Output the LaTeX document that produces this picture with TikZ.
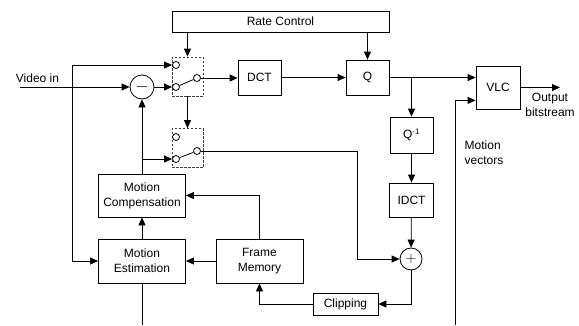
\documentclass[tikz,border=0pt]{standalone}
\usepackage{fontspec}
\setmainfont{Liberation Sans}
\usetikzlibrary{positioning,arrows.meta}
\begin{document}
\begin{tikzpicture}[x=1pt,y=-1pt,line width=.8pt,every node/.style={font=\fontsize{12}{15}\selectfont},
    box/.style={draw,align=center,inner sep=0pt,minimum width=43pt,minimum height=35pt},
    wide/.style={box,minimum width=87pt,minimum height=44pt},
    swbox/.style={draw=black!75,dash pattern=on 2.5pt off 1.5pt,inner sep=0pt,minimum width=31pt,minimum height=39pt},
    contact/.style={draw,circle,fill=white,inner sep=0pt,minimum size=7pt},
    sum/.style={draw,circle,inner sep=0pt},
    arr/.style={-{Triangle[length=8pt,width=7pt]}}]
    \useasboundingbox (0,0) rectangle (579,325);
    \node[box,minimum width=217pt,minimum height=21pt] (rc) at (280.5,21.5) {Rate Control};
    \node[swbox] (sw1) at (187.5,76.5) {};
    \node[swbox] (sw2) at (187.5,148) {};
    \node[contact] (s1a) at (176,65) {};
    \node[contact] (s1b) at (176,87) {};
    \node[contact] (s1c) at (197,78) {};
    \node[contact] (s2a) at (176,137) {};
    \node[contact] (s2b) at (176,159) {};
    \node[contact] (s2c) at (197,151) {};
    \node[sum,minimum size=24pt,font=\fontsize{17}{17}\selectfont] (sub) at (142,87) {$-$};
    \node[sum,minimum size=22pt,font=\fontsize{14}{14}\selectfont] (add) at (411,259) {$+$};
    \node[box] (dct) at (259.5,77.5) {DCT};
    \node[box] (q) at (367.5,77.5) {Q};
    \node[box,minimum width=44pt,minimum height=43pt] (vlc) at (498,87.5) {VLC};
    \node[box,minimum height=36pt] (iq) at (411.5,135) {Q\textsuperscript{-1}};
    \node[box,minimum width=44pt,minimum height=34pt] (idct) at (411.5,200) {IDCT};
    \node[wide,minimum height=43pt] (mc) at (142,195.5) {Motion\\Compensation};
    \node[wide] (me) at (142,261) {Motion\\Estimation};
    \node[wide] (fm) at (259.5,261) {Frame\\Memory};
    \node[box,minimum width=65pt,minimum height=22pt] (clip) at (345.5,304) {Clipping};
    \node (vid) at (37.5,78) {Video in};
    \node[align=center] (outlbl) at (550,105) {Output\\bitstream};
    \node[align=left,anchor=west] (mvlbl) at (461,153) {Motion\\vectors};
    \coordinate (vin) at (20,87);
    \coordinate (tap) at (72,87);
    \coordinate (out) at (560,87.5);
    \coordinate (mvbot) at (455,325);
    \coordinate (mebot) at (142,325);
    \draw[arr] (rc.south -| sw1.north) -- (sw1.north);
    \draw[arr] (rc.south -| q.north) -- (q.north);
    \draw[arr] (vin) -- (sub.west);
    \draw[arr] (tap) |- (s1a.west);
    \draw[arr] (tap) |- (me.west);
    \draw[arr] (sub.east) -- (s1b.west);
    \draw (s1b) -- (s1c);
    \draw (s2b) -- (s2c);
    \draw[arr] (s1c.east) -- (s1c.east -| dct.west);
    \draw[arr] (sw1.south) -- (sw2.north);
    \draw[arr] (dct.east) -- (q.west);
    \draw[arr] (q.east) -- (q.east -| vlc.west);
    \draw[arr] (q.east -| iq.north) -- (iq.north);
    \draw[arr] (iq) -- (idct);
    \draw[arr] (idct) -- (add);
    \draw[arr] (vlc.east) -- (out);
    \draw[arr] (mvbot) |- ([yshift=9pt]vlc.south west);
    \draw[arr] (s2c.east) -- ++(156,0) |- (add.west);
    \draw[arr] (mc.north) -- (sub.south);
    \draw[arr] (mc.north |- s2b) -- (s2b.west);
    \draw[arr] (me) -- (mc);
    \draw[arr] (fm) -- (me);
    \draw[arr] (fm.north) |- (mc.east);
    \draw[arr] (add.south) |- (clip.east);
    \draw[arr] (clip.west) -| (fm.south);
    \draw (me.south) -- (mebot);
\end{tikzpicture}
\end{document}
